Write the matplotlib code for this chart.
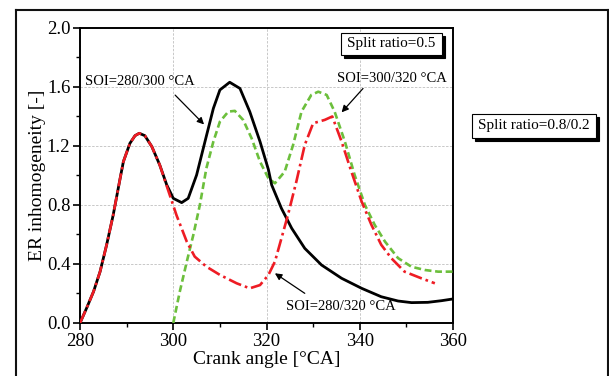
import matplotlib
matplotlib.use("Agg")

import matplotlib.pyplot as plt
from matplotlib.patches import Rectangle

# ── data ────────────────────────────────────────────────────────────────

ca_280_300 = [280, 281.4, 282.9, 284.3, 285.7, 287.1, 288.6, 289.3, 290.7, 291.8,
              292.7, 293.9, 295.4, 297.1, 298.6, 300.0, 301.8, 303.2, 305.0, 306.8,
              308.6, 310.0, 312.1, 314.3, 316.4, 318.6, 320.4, 321.1, 323.2, 325.4,
              328.2, 331.8, 336.1, 340.4, 344.6, 348.2, 351.1, 354.6, 357.5, 360.0]
er_280_300 = [0.0, 0.10, 0.213, 0.348, 0.529, 0.73, 0.98, 1.094, 1.218, 1.27,
              1.286, 1.27, 1.196, 1.071, 0.936, 0.845, 0.816, 0.845, 1.003, 1.23,
              1.455, 1.58, 1.632, 1.59, 1.433, 1.23, 1.04, 0.936, 0.777, 0.642,
              0.506, 0.393, 0.303, 0.235, 0.178, 0.149, 0.138, 0.140, 0.151, 0.163]

ca_280_320 = [280, 281.4, 282.9, 284.3, 285.7, 287.1, 288.6, 289.3, 290.7, 291.8,
              292.7, 293.9, 295.4, 297.1, 298.9, 300.7, 302.9, 304.6, 307.1, 310.0,
              313.6, 316.4, 318.6, 320.4, 321.8, 323.2, 324.6, 326.4, 328.2, 330.0,
              332.5, 334.1, 336.1, 338.2, 340.4, 342.5, 344.6, 346.8, 349.6, 353.2,
              356.1]
er_280_320 = [0.0, 0.10, 0.213, 0.348, 0.529, 0.73, 0.98, 1.094, 1.218, 1.27,
              1.286, 1.27, 1.196, 1.071, 0.90, 0.73, 0.551, 0.45, 0.382, 0.326,
              0.269, 0.235, 0.257, 0.325, 0.416, 0.574, 0.733, 0.959, 1.207, 1.354,
              1.377, 1.40, 1.23, 1.026, 0.823, 0.665, 0.53, 0.438, 0.348, 0.303,
              0.269]

ca_300_320 = [300, 301.4, 302.9, 304.3, 305.7, 307.1, 308.6, 310.0, 311.8, 313.2,
              315.0, 316.8, 318.6, 320.4, 321.8, 323.9, 325.7, 327.5, 329.6, 331.1,
              332.9, 334.6, 336.8, 338.9, 341.1, 343.2, 345.4, 348.2, 351.1, 354.0,
              356.8, 360.0]
er_300_320 = [0.0, 0.213, 0.416, 0.597, 0.80, 1.049, 1.23, 1.365, 1.433, 1.438,
              1.376, 1.252, 1.094, 0.981, 0.947, 1.026, 1.207, 1.433, 1.546, 1.568,
              1.546, 1.433, 1.23, 1.003, 0.80, 0.665, 0.552, 0.44, 0.381, 0.359,
              0.348, 0.348]

x_ticks = [280, 300, 320, 340, 360]
y_ticks = [0.0, 0.4, 0.8, 1.2, 1.6, 2.0]

W, H = 609, 376

# ── figure ──────────────────────────────────────────────────────────────

plt.rcParams["font.family"] = ["Liberation Serif", "DejaVu Serif"]

fig = plt.figure(figsize=(W / 100, H / 100), dpi=100, facecolor="white")
ax = fig.add_axes([0.1314, 0.141, 0.6125, 0.7846])

# outer frame (bottom edge is cut off in the reference)
frame_kw = dict(transform=fig.transFigure, color="#111", lw=1.5)
fig.add_artist(plt.Line2D([0.027, 0.027], [0.0, 0.973], **frame_kw))
fig.add_artist(plt.Line2D([0.027, 0.998], [0.973, 0.973], **frame_kw))
fig.add_artist(plt.Line2D([0.998, 0.998], [0.0, 0.973], **frame_kw))

ax.plot(ca_280_300, er_280_300, color="black", lw=2.0, zorder=4,
        solid_joinstyle="round")
ax.plot(ca_300_320, er_300_320, color="#6cbf3c", lw=1.9,
        linestyle=(0, (2.6, 1.4)), zorder=3)
ax.plot(ca_280_320, er_280_320, color="#ee1c24", lw=1.9,
        linestyle=(0, (5.0, 1.5, 1.0, 1.5)), zorder=5)

ax.set_xlim(280, 360)
ax.set_ylim(0, 2.0)
ax.set_xticks(x_ticks)
ax.set_yticks(y_ticks)
ax.set_xticks([290, 310, 330, 350], minor=True)
ax.set_yticks([0.2, 0.6, 1.0, 1.4, 1.8], minor=True)
ax.set_xticklabels([str(v) for v in x_ticks])
ax.set_yticklabels([f"{v:.1f}" for v in y_ticks])
ax.tick_params(which="major", direction="out", length=5, width=1.2,
               labelsize=13.5, pad=2, top=False, right=False)
ax.tick_params(which="minor", direction="out", length=3, width=1.0,
               top=False, right=False)
ax.grid(True, which="major", color="#c8c8c8", lw=0.7, linestyle=(0, (2.5, 1.5)))
ax.set_axisbelow(True)
for sp in ax.spines.values():
    sp.set_linewidth(1.4)

ax.set_xlabel("Crank angle [°CA]", fontsize=14, labelpad=1)
ax.set_ylabel("ER inhomogeneity [-]", fontsize=14, labelpad=0.5)

# annotations
arrow = dict(arrowstyle="-|>", color="black", lw=0.9, mutation_scale=10,
             shrinkA=0, shrinkB=0)
ax.text(281.0, 1.635, "SOI=280/300 °CA", fontsize=10.5, ha="left", va="center")
ax.annotate("", xy=(306.6, 1.346), xytext=(300.4, 1.545), arrowprops=arrow)

ax.text(347.0, 1.66, "SOI=300/320 °CA", fontsize=10.5, ha="center", va="center")
ax.annotate("", xy=(336.1, 1.428), xytext=(340.7, 1.59), arrowprops=arrow)

ax.text(336.0, 0.11, "SOI=280/320 °CA", fontsize=10.5, ha="center", va="center")
ax.annotate("", xy=(321.8, 0.337), xytext=(328.2, 0.201), arrowprops=arrow)


# boxed labels with drop shadow, box given in pixels (x0, y0 from top-left)
def shadow_box(x0, y0, x1, y1, s):
    fx, fy = x0 / W, 1 - y1 / H
    fw, fh = (x1 - x0) / W, (y1 - y0) / H
    fig.add_artist(Rectangle((fx + 3 / W, fy - 3 / H), fw, fh,
                             transform=fig.transFigure, fc="black", ec="black",
                             lw=0.8, zorder=8))
    fig.add_artist(Rectangle((fx, fy), fw, fh, transform=fig.transFigure,
                             fc="white", ec="black", lw=0.8, zorder=9))
    fig.text(fx + fw / 2, fy + fh / 2, s, fontsize=11, ha="center", va="center",
             color="black", zorder=10)


shadow_box(341, 33, 442, 55, "Split ratio=0.5")
shadow_box(472, 114, 596, 138, "Split ratio=0.8/0.2")

plt.savefig("out.png", dpi=100, facecolor="white")
